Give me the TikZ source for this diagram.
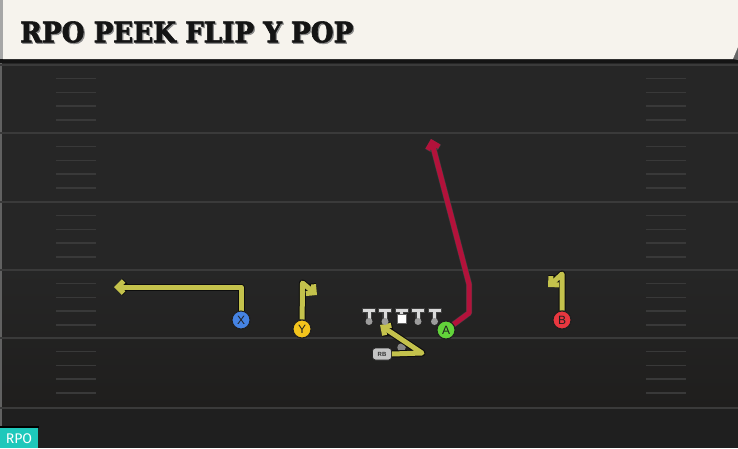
\documentclass[tikz,border=0pt]{standalone}
\usepackage{fontspec}
\setmainfont{Liberation Sans}
\newfontfamily\titlefont[BoldFeatures={FakeBold=2}]{DejaVu Serif Condensed}
\newfontfamily\badgefont{Fira Sans}
\usetikzlibrary{arrows.meta}
\definecolor{fieldbg}{HTML}{262626}
\definecolor{fieldbot}{HTML}{1F1E1D}
\definecolor{fline}{HTML}{3A3A3A}
\definecolor{hash}{HTML}{393939}
\definecolor{cream}{HTML}{F6F3ED}
\definecolor{routey}{HTML}{C4C24C}
\definecolor{router}{HTML}{B3123B}
\definecolor{pblue}{HTML}{4583E3}
\definecolor{pyellow}{HTML}{F3C41C}
\definecolor{pgreen}{HTML}{62D33A}
\definecolor{pred}{HTML}{E8373F}
\definecolor{badge}{HTML}{1EC8BB}
\definecolor{tgray}{HTML}{DADADA}
\definecolor{dotgray}{HTML}{9C9C9C}
\tikzset{
  fieldline/.style={draw=fline, line width=1.8pt},
  hashline/.style={draw=hash, line width=1.4pt},
  outl/.style={draw=black!95, line width=7pt, line join=round,
    -{Straight Barb[length=6pt,width=12pt]}},
  yroute/.style={draw=routey, line width=5pt, line join=round,
    -{Straight Barb[length=6pt,width=12pt]}},
  rroute/.style={draw=router, line width=5pt, line join=round,
    -{Straight Barb[length=6pt,width=12pt]}},
  routl/.style={draw=black!75, line width=6pt, line join=round,
    -{Straight Barb[length=6pt,width=12pt]}},
  player/.style={circle, draw=black!88, line width=1pt, minimum size=18pt,
    inner sep=0pt, text=black!88, font=\fontsize{12}{12}\selectfont},
  lineman/.pic={
    \filldraw[fill=tgray, draw=black!75, line width=0.6pt]
      (-6.5,0) -- (6.5,0) -- (6.5,4.5) -- (2.2,4.5) -- (2.2,11) -- (-2.2,11) -- (-2.2,4.5) -- (-6.5,4.5) -- cycle;
    \fill[dotgray] (0,13.5) circle (3.5);
  },
  centerman/.pic={
    \filldraw[fill=tgray, draw=black!75, line width=0.6pt]
      (-6.5,0) -- (6.5,0) -- (6.5,4.5) -- (2.2,4.5) -- (2.2,6) -- (-2.2,6) -- (-2.2,4.5) -- (-6.5,4.5) -- cycle;
    \filldraw[fill=white, draw=black!60, line width=0.4pt] (-4.5,6) rectangle (4.5,15.5);
  }
}
\begin{document}
\begin{tikzpicture}[x=1pt,y=-1pt]
\useasboundingbox (0,0) rectangle (738,448);
% field
\fill[fieldbg] (0,0) rectangle (738,448);
\shade[top color=fieldbg, bottom color=fieldbot] (0,270) rectangle (738,408);
\fill[black!88] (0,408) rectangle (738,448);
\fill[fline!80] (0,60) rectangle (1.5,448);
\foreach \yy in {65,133,202,270,338,408} {
  \draw[fieldline] (0,\yy) -- (738,\yy);
}
\foreach \s in {65,133,202,270,338} {
  \foreach \k in {1,2,3,4} {
    \draw[hashline] (56,\s+13.7*\k) -- (96,\s+13.7*\k);
    \draw[hashline] (646,\s+13.7*\k) -- (686,\s+13.7*\k);
  }
}
% header
\fill[black!92] (0,58) rectangle (738,63);
\fill[black!60] (733,59) -- (738,47) -- (738,60) -- cycle;
\fill[cream] (3,0) -- (738,0) -- (738,47) -- (733,59) -- (3,59) -- cycle;
\fill[black!35] (0,0) rectangle (3,59);
\node[anchor=west, text=black!45, inner sep=0pt] (titleshadow) at (21.2,33.2)
  {\resizebox{333pt}{21pt}{\titlefont\bfseries RPO PEEK FLIP Y POP}};
\node[anchor=west, text=black!92, inner sep=0pt] (title) at (20,32)
  {\resizebox{333pt}{21pt}{\titlefont\bfseries RPO PEEK FLIP Y POP}};
% badge
\fill[black] (0,426) rectangle (38.5,427.5);
\fill[badge] (0,427.5) rectangle (38,448);
\node[text=white, font=\badgefont\fontsize{14}{14}\selectfont, inner sep=0pt] (rpo) at (19,438.5) {RPO};
% players
\node[player, fill=pblue] (X) at (241,320) {X};
\node[player, fill=pyellow] (Y) at (302,329) {Y};
\node[player, fill=pgreen] (A) at (446,330) {A};
\node[player, fill=pred] (B) at (562,320) {B};
\node[rounded corners=3pt, fill=tgray!90!black, draw=black!85, line width=0.7pt,
  minimum width=19pt, minimum height=12pt, inner sep=0pt, text=black!80,
  font=\bfseries\fontsize{6}{6}\selectfont] (RB) at (382,354) {RB};
\node[circle, fill=dotgray!85!black, minimum size=8.5pt, inner sep=0pt] (QB) at (401.5,347.5) {};
% route points
\coordinate (xa) at (241,287);
\coordinate (xb) at (114,287);
\coordinate (ya) at (302.5,283);
\coordinate (yb) at (317,295);
\coordinate (ba) at (562,274);
\coordinate (bb) at (548,287);
\coordinate (aa) at (469,313);
\coordinate (ab) at (469,284);
\coordinate (ac) at (431,139);
\coordinate (rba) at (422,353);
\coordinate (rbb) at (380,325);
% routes
\draw[outl] (X) -- (xa) -- (xb);
\draw[yroute] (X) -- (xa) -- (xb);
\draw[outl] (Y) -- (ya) -- (yb);
\draw[yroute] (Y) -- (ya) -- (yb);
\draw[outl] (B) -- (ba) -- (bb);
\draw[yroute] (B) -- (ba) -- (bb);
\draw[outl] (RB.east) -- (rba) -- (rbb);
\draw[yroute] (RB.east) -- (rba) -- (rbb);
\draw[routl] (A) -- (aa) -- (ab) -- (ac);
\draw[rroute] (A) -- (aa) -- (ab) -- (ac);
% redraw players on top
\node[player, fill=pblue] at (X) {X};
\node[player, fill=pyellow] at (Y) {Y};
\node[player, fill=pgreen] at (A) {A};
\node[player, fill=pred] at (B) {B};
% line
\foreach \lx in {369,385,418,434.5} {
  \pic at (\lx,308) {lineman};
}
\pic at (401.5,308) {centerman};
\end{tikzpicture}
\end{document}
